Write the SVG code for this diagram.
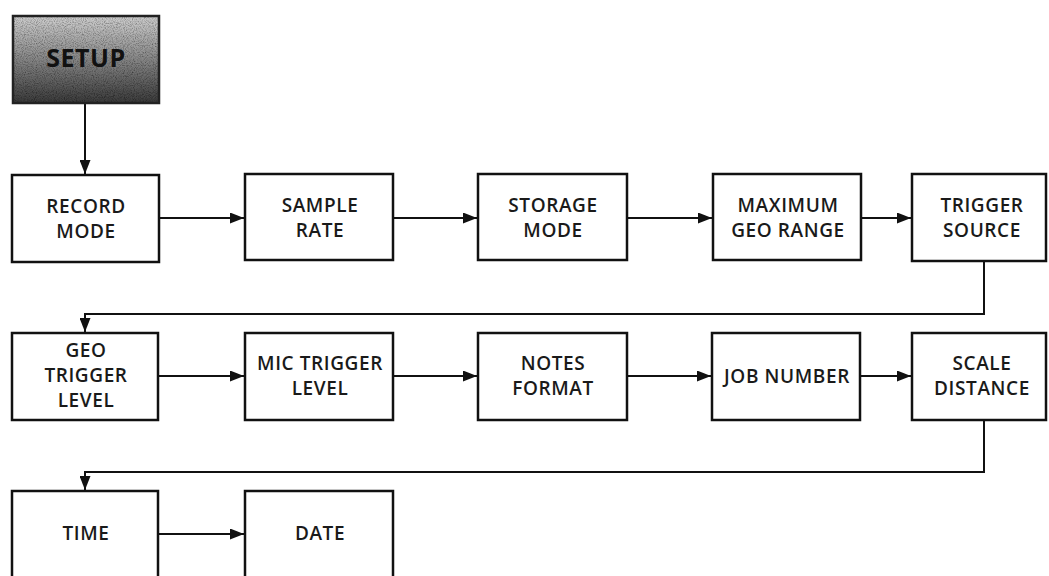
<svg xmlns="http://www.w3.org/2000/svg" width="1049" height="576" viewBox="0 0 1049 576">
<style>
.box{fill:#fff;stroke:#111;stroke-width:2.5}
.lbl{font-family:"Open Sans","Liberation Sans",sans-serif;font-weight:600;font-size:19px;letter-spacing:0.6px;fill:#1a1a1a;text-anchor:middle}
.con{fill:none;stroke:#111;stroke-width:2}
</style>
<defs>
<linearGradient id="setupFill" x1="0" y1="0" x2="0" y2="1">
<stop offset="0" stop-color="#cfcfcf"/>
<stop offset="0.45" stop-color="#8e8e8e"/>
<stop offset="1" stop-color="#3a3a3a"/>
</linearGradient>
<filter id="grain" x="0" y="0" width="100%" height="100%">
<feTurbulence type="fractalNoise" baseFrequency="0.9" numOctaves="2" seed="3" result="n"/>
<feColorMatrix in="n" type="matrix" values="0 0 0 0 0  0 0 0 0 0  0 0 0 0 0  0 0 0 1.4 -0.55" result="dots"/>
<feComposite in="dots" in2="SourceGraphic" operator="in" result="d2"/>
<feMerge><feMergeNode in="SourceGraphic"/><feMergeNode in="d2"/></feMerge>
</filter>
<marker id="arr" viewBox="0 0 14 11" refX="14" refY="5.5" markerWidth="14" markerHeight="11" markerUnits="userSpaceOnUse" orient="auto">
<path d="M0,0 L14,5.5 L0,11 Z" fill="#111"/>
</marker>
</defs>
<rect width="1049" height="576" fill="#fff"/>
<g id="connectors">
<line class="con" x1="85" y1="103" x2="85" y2="174" marker-end="url(#arr)"/>
<line class="con" x1="159" y1="218" x2="244" y2="218" marker-end="url(#arr)"/>
<line class="con" x1="393" y1="218" x2="477" y2="218" marker-end="url(#arr)"/>
<line class="con" x1="627" y1="218" x2="712" y2="218" marker-end="url(#arr)"/>
<line class="con" x1="861" y1="218" x2="911" y2="218" marker-end="url(#arr)"/>
<polyline class="con" points="984,261 984,314 85,314 85,332" marker-end="url(#arr)"/>
<line class="con" x1="158" y1="376" x2="244" y2="376" marker-end="url(#arr)"/>
<line class="con" x1="393" y1="376" x2="477" y2="376" marker-end="url(#arr)"/>
<line class="con" x1="627" y1="376" x2="711" y2="376" marker-end="url(#arr)"/>
<line class="con" x1="860" y1="376" x2="911" y2="376" marker-end="url(#arr)"/>
<polyline class="con" points="984,420 984,472 85,472 85,490" marker-end="url(#arr)"/>
<line class="con" x1="158" y1="534" x2="244" y2="534" marker-end="url(#arr)"/>
</g>
<g id="setup">
<rect x="13" y="16" width="146" height="87" fill="url(#setupFill)" filter="url(#grain)"/>
<rect x="13" y="16" width="146" height="87" fill="none" stroke="#222" stroke-width="2.5"/>
<text x="86" y="67" font-family="'Open Sans','Liberation Sans',sans-serif" font-weight="700" font-size="25" fill="#111" text-anchor="middle" letter-spacing="0.5">SETUP</text>
</g>
<g id="record-mode"><rect class="box" x="12" y="175" width="147" height="87"/><text class="lbl" x="86" y="213">RECORD</text><text class="lbl" x="86" y="238">MODE</text></g>
<g id="sample-rate"><rect class="box" x="245" y="174" width="148" height="86"/><text class="lbl" x="320" y="212">SAMPLE</text><text class="lbl" x="320" y="237">RATE</text></g>
<g id="storage-mode"><rect class="box" x="478" y="174" width="149" height="86"/><text class="lbl" x="553" y="212">STORAGE</text><text class="lbl" x="553" y="237">MODE</text></g>
<g id="maximum-geo-range"><rect class="box" x="713" y="174" width="148" height="86"/><text class="lbl" x="788" y="212">MAXIMUM</text><text class="lbl" x="788" y="237">GEO RANGE</text></g>
<g id="trigger-source"><rect class="box" x="912" y="174" width="134" height="87"/><text class="lbl" x="982" y="212">TRIGGER</text><text class="lbl" x="982" y="237">SOURCE</text></g>
<g id="geo-trigger-level"><rect class="box" x="12" y="333" width="146" height="87"/><text class="lbl" x="86" y="357">GEO</text><text class="lbl" x="86" y="382">TRIGGER</text><text class="lbl" x="86" y="407">LEVEL</text></g>
<g id="mic-trigger-level"><rect class="box" x="245" y="333" width="148" height="87"/><text class="lbl" x="320" y="370">MIC TRIGGER</text><text class="lbl" x="320" y="395">LEVEL</text></g>
<g id="notes-format"><rect class="box" x="478" y="333" width="149" height="87"/><text class="lbl" x="553" y="370">NOTES</text><text class="lbl" x="553" y="395">FORMAT</text></g>
<g id="job-number"><rect class="box" x="712" y="333" width="148" height="87"/><text class="lbl" x="787" y="383">JOB NUMBER</text></g>
<g id="scale-distance"><rect class="box" x="912" y="333" width="134" height="87"/><text class="lbl" x="982" y="370">SCALE</text><text class="lbl" x="982" y="395">DISTANCE</text></g>
<g id="time"><rect class="box" x="12" y="491" width="146" height="95"/><text class="lbl" x="86" y="540">TIME</text></g>
<g id="date"><rect class="box" x="245" y="491" width="148" height="95"/><text class="lbl" x="320" y="540">DATE</text></g>
</svg>
